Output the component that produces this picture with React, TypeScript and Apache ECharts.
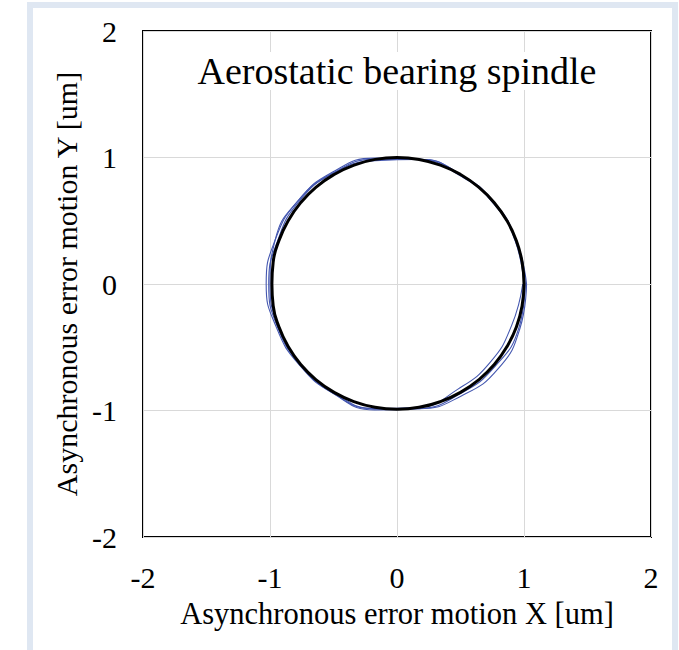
import React, { useEffect, useRef } from "react";
import * as echarts from "echarts";

const titleText = "Aerostatic bearing spindle";
const xAxisName = "Asynchronous error motion X [um]";
const yAxisName = "Asynchronous error motion Y [um]";
const axisMin = -2;
const axisMax = 2;
const axisStep = 1;

// Mean orbit, black
const blackX = [1.0, 0.985, 0.94, 0.866, 0.766, 0.643, 0.5, 0.342, 0.174, 0.0, -0.172, -0.338, -0.495, -0.637, -0.758, -0.857, -0.93, -0.975, -0.985, -0.975, -0.93, -0.857, -0.758, -0.637, -0.495, -0.34, -0.173, 0.0, 0.174, 0.342, 0.5, 0.643, 0.766, 0.866, 0.94, 0.985, 1.0];
const blackY = [0.0, 0.174, 0.342, 0.5, 0.643, 0.766, 0.866, 0.94, 0.985, 1.0, 0.985, 0.94, 0.866, 0.766, 0.643, 0.5, 0.342, 0.174, 0.0, -0.172, -0.338, -0.495, -0.637, -0.758, -0.857, -0.93, -0.975, -0.99, -0.975, -0.93, -0.857, -0.758, -0.637, -0.495, -0.34, -0.172, 0.0];

// Measured revolutions, blue
const loopAX = [1.02, 0.94, 0.766, 0.495, 0.174, -0.176, -0.51, -0.781, -0.959, -1.03, -0.949, -0.766, -0.5, -0.174, 0.174, 0.51, 0.797, 0.968, 1.02];
const loopAY = [0, 0.342, 0.643, 0.857, 0.985, 0.995, 0.883, 0.656, 0.349, 0, -0.345, -0.643, -0.866, -0.985, -0.985, -0.883, -0.669, -0.352, 0];
const loopBX = [1.0, 0.931, 0.766, 0.5, 0.174, -0.174, -0.505, -0.774, -0.94, -1.01, -0.94, -0.758, -0.495, -0.174, 0.172, 0.48, 0.735, 0.902, 0.99];
const loopBY = [0, 0.339, 0.643, 0.866, 0.985, 0.985, 0.875, 0.649, 0.342, 0, -0.342, -0.637, -0.857, -0.985, -0.975, -0.831, -0.617, -0.329, 0];
const loopCX = [1.01, 0.94, 0.758, 0.5, 0.174, -0.172, -0.505, -0.781, -0.959, -1.0, -0.931, -0.758, -0.5, -0.176, 0.174, 0.5, 0.774, 0.959, 1.01];
const loopCY = [0, 0.342, 0.637, 0.866, 0.985, 0.975, 0.875, 0.656, 0.349, 0, -0.339, -0.637, -0.866, -0.995, -0.985, -0.866, -0.649, -0.349, 0];

const zip = (xs: number[], ys: number[]) => xs.map((x, i) => [x, ys[i]]);

const FONT = "'Liberation Serif', 'Times New Roman', serif";
const FRAME = "#dfe7f2";

export default function App() {
  const ref = useRef<HTMLDivElement>(null);
  useEffect(() => {
    document.body.style.margin = "0";
    const chart = echarts.init(ref.current!, undefined, { renderer: "svg" });
    const blueLine = (name: string, xs: number[], ys: number[]) => ({
      name,
      type: "line",
      data: zip(xs, ys),
      smooth: 0.5,
      showSymbol: false,
      lineStyle: { color: "#4457b0", width: 1.1 },
      z: 2,
    });
    chart.setOption({
      animation: false,
      backgroundColor: "#ffffff",
      grid: {
        left: 143,
        right: 28,
        top: 31,
        bottom: 113,
        show: true,
        borderColor: "#000000",
        borderWidth: 2,
        backgroundColor: "transparent",
      },
      graphic: [
        { type: "rect", shape: { x: 27, y: 2, width: 6, height: 648 }, style: { fill: FRAME }, silent: true },
        { type: "rect", shape: { x: 27, y: 2, width: 651, height: 6 }, style: { fill: FRAME }, silent: true },
        { type: "rect", shape: { x: 672, y: 2, width: 6, height: 648 }, style: { fill: FRAME }, silent: true },
        {
          type: "text",
          x: 397,
          y: 71,
          style: {
            text: titleText,
            fill: "#000",
            font: `38px ${FONT}`,
            textAlign: "center",
            textVerticalAlign: "middle",
            backgroundColor: "#fff",
          },
          z: 100,
        },
      ],
      xAxis: {
        type: "value",
        min: axisMin,
        max: axisMax,
        interval: axisStep,
        name: xAxisName,
        nameLocation: "middle",
        nameGap: 61,
        nameTextStyle: { fontFamily: FONT, fontSize: 30.5, color: "#000" },
        axisLine: { show: false },
        axisTick: { show: false },
        axisLabel: { fontFamily: FONT, fontSize: 30, color: "#000", margin: 25 },
        splitLine: { show: true, lineStyle: { color: "#d9d9d9", width: 1 } },
      },
      yAxis: {
        type: "value",
        min: axisMin,
        max: axisMax,
        interval: axisStep,
        name: yAxisName,
        nameLocation: "middle",
        nameGap: 48,
        nameTextStyle: { fontFamily: FONT, fontSize: 30, color: "#000" },
        axisLine: { show: false },
        axisTick: { show: false },
        axisLabel: { fontFamily: FONT, fontSize: 30, color: "#000", margin: 26 },
        splitLine: { show: true, lineStyle: { color: "#d9d9d9", width: 1 } },
      },
      series: [
        blueLine("rev1", loopAX, loopAY),
        blueLine("rev2", loopBX, loopBY),
        blueLine("rev3", loopCX, loopCY),
        {
          name: "mean",
          type: "line",
          data: zip(blackX, blackY),
          smooth: 0.5,
          showSymbol: false,
          lineStyle: { color: "#000000", width: 3 },
          z: 3,
        },
      ],
    });
    return () => chart.dispose();
  }, []);
  return <div ref={ref} style={{ width: 679, height: 650 }} />;
}
